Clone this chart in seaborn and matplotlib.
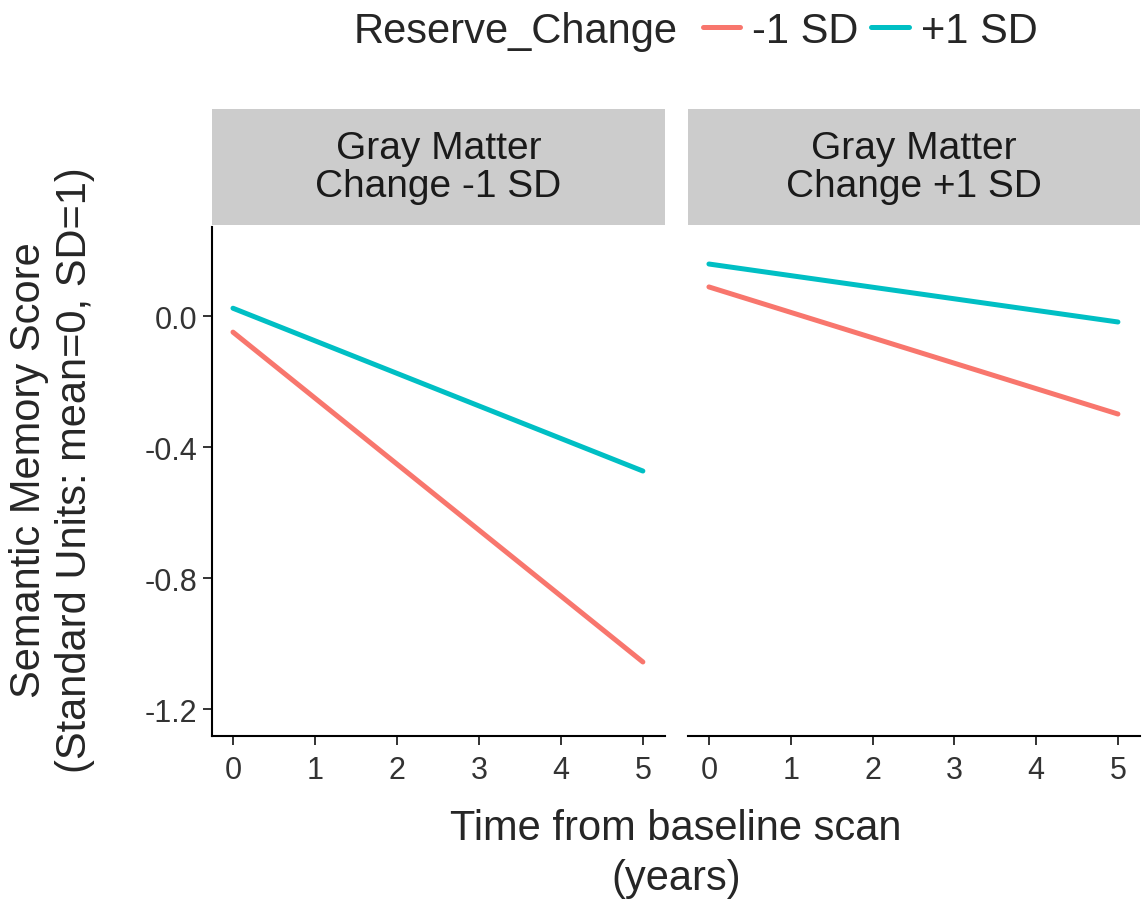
import pandas as pd
import matplotlib
matplotlib.use("Agg")
import matplotlib.pyplot as plt
import seaborn as sns

# ==========================================
# DATOS
# ==========================================
paneles = ["Gray Matter\nChange -1 SD", "Gray Matter\nChange +1 SD"]
grupos = ["-1 SD", "+1 SD"]
tiempo = [0, 5]
# valores por panel y grupo, en t=0 y t=5
valores_gm_menos = {"-1 SD": [-0.049, -1.056], "+1 SD": [0.024, -0.473]}
valores_gm_mas = {"-1 SD": [0.089, -0.299], "+1 SD": [0.159, -0.018]}
y_ticks = [0.0, -0.4, -0.8, -1.2]
x_ticks = [0, 1, 2, 3, 4, 5]

colores = {"-1 SD": "#F8766D", "+1 SD": "#00BFC4"}

filas = []
for panel, vals in zip(paneles, [valores_gm_menos, valores_gm_mas]):
    for g in grupos:
        for t, v in zip(tiempo, vals[g]):
            filas.append({"panel": panel, "Reserve_Change": g, "t": t, "score": v})
df = pd.DataFrame(filas)

sns.set_theme(style="white")
plt.rcParams["font.family"] = ["Liberation Sans", "DejaVu Sans"]
plt.rcParams["axes.unicode_minus"] = False

W, H = 1142, 912
fig = plt.figure(figsize=(W / 100, H / 100), dpi=100)


def caja(x0, y0, x1, y1):
    # coordenadas en pixeles (origen arriba) -> fraccion de figura
    return [x0 / W, 1 - y1 / H, (x1 - x0) / W, (y1 - y0) / H]


pos_x = [(212, 665), (688, 1140)]
for i, (panel, (x0, x1)) in enumerate(zip(paneles, pos_x)):
    ax = fig.add_axes(caja(x0, 228, x1, 737))
    sub = df[df["panel"] == panel]
    sns.lineplot(data=sub, x="t", y="score", hue="Reserve_Change",
                 hue_order=grupos, palette=colores, linewidth=3.6,
                 ax=ax, legend=False)
    ax.set_xlim(-0.256, 5.27)
    ax.set_ylim(-1.282, 0.272)
    ax.set_xticks(x_ticks)
    ax.set_yticks(y_ticks)
    ax.set_yticklabels([f"{v:.1f}" for v in y_ticks])
    ax.set_xlabel("")
    ax.set_ylabel("")
    for s in ["top", "right"]:
        ax.spines[s].set_visible(False)
    for s in ["bottom", "left"]:
        ax.spines[s].set_color("black")
        ax.spines[s].set_linewidth(1.5)
    ax.tick_params(axis="both", direction="out", length=6.5, width=1.4,
                   color="#333333", labelsize=22, labelcolor="#333333")
    ax.tick_params(axis="x", pad=7, bottom=True)
    ax.tick_params(axis="y", pad=4, left=True)
    if i == 1:
        ax.spines["left"].set_visible(False)
        ax.tick_params(axis="y", left=False, labelleft=False)
    ax.grid(False)

    # tira gris del facet
    st = fig.add_axes(caja(x0, 110, x1, 226))
    st.set_facecolor("#CCCCCC")
    st.set_xticks([])
    st.set_yticks([])
    for s in st.spines.values():
        s.set_visible(False)
    st.text(0.5, 0.5, panel, ha="center", va="center", fontsize=28,
            color="#1A1A1A", linespacing=1.1, transform=st.transAxes)

fig.text(52 / W, 1 - 470 / H, "Semantic Memory Score\n(Standard Units: mean=0, SD=1)",
         rotation=90, ha="center", va="center", fontsize=30, linespacing=1.2)
fig.text(676 / W, 1 - 854 / H, "Time from baseline scan\n(years)",
         ha="center", va="center", fontsize=30, linespacing=1.35)

# leyenda arriba, estilo ggplot (titulo a la izquierda)
fig.text(678 / W, 1 - 32 / H, "Reserve_Change", ha="right", va="center", fontsize=30)
handles = [plt.Line2D([], [], color=colores[g], linewidth=3.6) for g in grupos]
fig.legend(handles, grupos, loc="center left", bbox_to_anchor=(703 / W, 1 - 32 / H),
           ncol=2, frameon=False, fontsize=30, handlelength=0.89,
           handletextpad=0.29, columnspacing=0.31, borderaxespad=0, borderpad=0)

fig.savefig("out.png", dpi=100)
